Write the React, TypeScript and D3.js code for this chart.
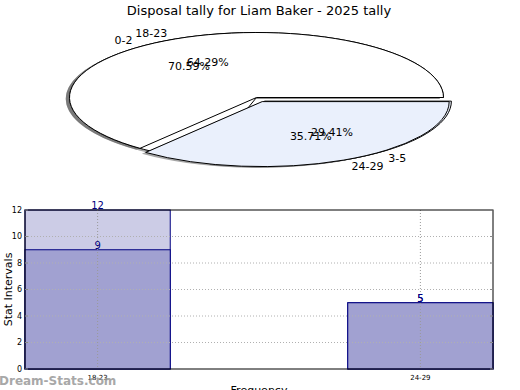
import * as d3 from "d3";
import {useEffect, useRef} from "react";

const W = 520;
const H = 390;

// pie data (two pies drawn on top of each other)
const pieBackLabels = ["0-2", "3-5"];
const pieBackValues = [12, 5];
const pieFrontLabels = ["18-23", "24-29"];
const pieFrontValues = [9, 5];
const sliceColors = ["#ffffff", "#eaf0fc"];

// bar data
const categories = ["18-23", "24-29"];
const seriesLight = [12, 5];
const seriesDark = [9, 5];
const yTicks = [0, 2, 4, 6, 8, 10, 12];

const PIE = {cx: 256.5, cy: 97.5, rx: 187, ry: 65, explode: 0.07};
const PLOT = {left: 25, right: 493, top: 210, bottom: 369};

const App = () => {
    const ref = useRef<SVGSVGElement>(null);

    useEffect(() => {
        const svg = d3.select(ref.current);
        svg.selectAll("*").remove();

        const font = "DejaVu Sans, sans-serif";

        svg.append("text")
            .attr("x", 259).attr("y", 15)
            .attr("text-anchor", "middle")
            .style("font", `13px ${font}`)
            .text("Disposal tally for Liam Baker - 2025 tally");

        // ---------- pie ----------
        const pie = d3.pie<number>()
            .sort(null)
            .startAngle(Math.PI / 2)
            .endAngle(Math.PI / 2 - 2 * Math.PI);
        const arc = d3.arc<d3.PieArcDatum<number>>().innerRadius(0).outerRadius(1);

        const pieG = svg.append("g");
        const textG = svg.append("g");

        const drawPie = (values: number[], labels: string[]) => {
            const total = d3.sum(values);
            pie(values).forEach((d, i) => {
                const mid = (d.startAngle + d.endAngle) / 2;
                const e = i === 1 ? PIE.explode : 0;
                const cx = PIE.cx + e * Math.sin(mid) * PIE.rx;
                const cy = PIE.cy - e * Math.cos(mid) * PIE.ry;
                // shadow
                pieG.append("path")
                    .attr("d", arc(d))
                    .attr("transform", `translate(${cx - 0.02 * PIE.rx},${cy + 0.02 * PIE.ry}) scale(${PIE.rx},${PIE.ry})`)
                    .attr("fill", "#4d4d4d")
                    .attr("opacity", 0.5);
                pieG.append("path")
                    .attr("d", arc(d))
                    .attr("transform", `translate(${cx},${cy}) scale(${PIE.rx},${PIE.ry})`)
                    .attr("fill", sliceColors[i])
                    .attr("stroke", "#000")
                    .attr("stroke-width", 1)
                    .attr("vector-effect", "non-scaling-stroke");

                const lx = cx + 1.1 * Math.sin(mid) * PIE.rx;
                const ly = cy - 1.1 * Math.cos(mid) * PIE.ry;
                textG.append("text")
                    .attr("x", lx).attr("y", ly)
                    .attr("text-anchor", Math.sin(mid) < 0 ? "end" : "start")
                    .attr("dominant-baseline", "central")
                    .style("font", `11px ${font}`)
                    .text(labels[i]);

                const px = cx + 0.6 * Math.sin(mid) * PIE.rx;
                const py = cy - 0.6 * Math.cos(mid) * PIE.ry;
                textG.append("text")
                    .attr("x", px).attr("y", py)
                    .attr("text-anchor", "middle")
                    .attr("dominant-baseline", "central")
                    .style("font", `11px ${font}`)
                    .text(`${(values[i] / total * 100).toFixed(2)}%`);
            });
        };
        drawPie(pieBackValues, pieBackLabels);
        drawPie(pieFrontValues, pieFrontLabels);

        // ---------- bars ----------
        const barW = 0.45;
        const x = d3.scaleLinear().domain([-barW / 2, categories.length - 1 + barW / 2]).range([PLOT.left, PLOT.right]);
        const y = d3.scaleLinear().domain([0, 12]).range([PLOT.bottom, PLOT.top]);

        const g = svg.append("g");

        const drawSeries = (vals: number[], fill: string) => {
            g.selectAll(null)
                .data(vals)
                .join("rect")
                .attr("x", (_, i) => x(i - barW / 2))
                .attr("y", d => y(d))
                .attr("width", (_, i) => x(i + barW / 2) - x(i - barW / 2))
                .attr("height", d => y(0) - y(d))
                .attr("fill", fill)
                .attr("stroke", "#000080")
                .attr("stroke-width", 1);
        };
        drawSeries(seriesLight, "#ccccE6");
        drawSeries(seriesDark, "#a1a1d1");

        // grid
        g.selectAll(null)
            .data(yTicks.slice(1, -1))
            .join("line")
            .attr("x1", PLOT.left).attr("x2", PLOT.right)
            .attr("y1", d => y(d)).attr("y2", d => y(d))
            .attr("stroke", "#b0b0b0")
            .attr("stroke-dasharray", "1,2");
        g.selectAll(null)
            .data(categories)
            .join("line")
            .attr("x1", (_, i) => x(i)).attr("x2", (_, i) => x(i))
            .attr("y1", PLOT.top).attr("y2", PLOT.bottom)
            .attr("stroke", "#999")
            .attr("stroke-dasharray", "1,2");

        // value labels
        [seriesLight, seriesDark].forEach(vals => {
            g.selectAll(null)
                .data(vals)
                .join("text")
                .attr("x", (_, i) => x(i))
                .attr("y", d => y(d) - 1)
                .attr("text-anchor", "middle")
                .attr("fill", "#000080")
                .style("font", `10px ${font}`)
                .text(d => d);
        });

        // frame
        g.append("rect")
            .attr("x", PLOT.left).attr("y", PLOT.top)
            .attr("width", PLOT.right - PLOT.left)
            .attr("height", PLOT.bottom - PLOT.top)
            .attr("fill", "none")
            .attr("stroke", "#000");

        // y ticks
        yTicks.forEach(t => {
            g.append("line")
                .attr("x1", PLOT.left).attr("x2", PLOT.left + 3)
                .attr("y1", y(t)).attr("y2", y(t))
                .attr("stroke", "#888");
            g.append("line")
                .attr("x1", PLOT.right - 3).attr("x2", PLOT.right)
                .attr("y1", y(t)).attr("y2", y(t))
                .attr("stroke", "#888");
            g.append("text")
                .attr("x", PLOT.left - 3).attr("y", y(t))
                .attr("text-anchor", "end")
                .attr("dominant-baseline", "central")
                .style("font", `8px ${font}`)
                .text(t);
        });
        categories.forEach((c, i) => {
            g.append("text")
                .attr("x", x(i)).attr("y", PLOT.bottom + 11)
                .attr("text-anchor", "middle")
                .style("font", `7px ${font}`)
                .text(c);
        });

        g.append("text")
            .attr("transform", `translate(8,${(PLOT.top + PLOT.bottom) / 2}) rotate(-90)`)
            .attr("text-anchor", "middle")
            .attr("dominant-baseline", "central")
            .style("font", `11px ${font}`)
            .text("Stat Intervals");
        g.append("text")
            .attr("x", 259).attr("y", 394)
            .attr("text-anchor", "middle")
            .style("font", `11px ${font}`)
            .text("Frequency");

        svg.append("text")
            .attr("x", -1).attr("y", 385)
            .attr("fill", "#999")
            .attr("opacity", 0.85)
            .style("font", `bold 12px ${font}`)
            .text("Dream-Stats.com");
    }, []);

    return (
        <svg ref={ref} width={W} height={H}
             style={{position: "absolute", left: 0, top: 0, background: "#fff"}}/>
    );
};

export default App;
